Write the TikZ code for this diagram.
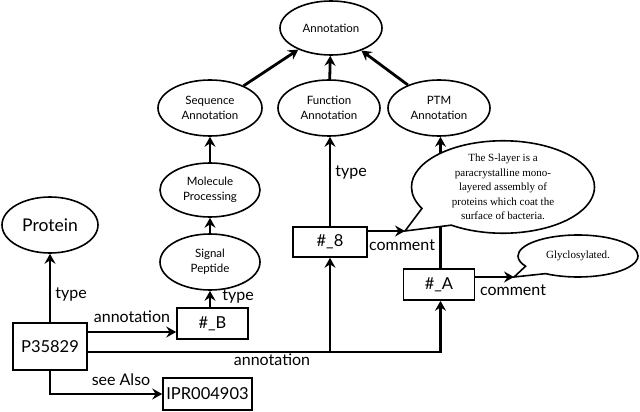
\documentclass[tikz,border=0pt]{standalone}
\usepackage{fontspec}
\setmainfont{Lato}
\newfontfamily\serifcall{Liberation Serif}
\usetikzlibrary{shapes.geometric,shapes.callouts,arrows.meta}
\begin{document}
\begin{tikzpicture}[x=1pt,y=-1pt,
  oval/.style={ellipse,draw,line width=1.6pt,inner sep=0pt,align=center,font=\fontsize{11.5}{15}\selectfont},
  box/.style={rectangle,draw,line width=1.6pt,inner sep=0pt,font=\fontsize{16.5}{18}\selectfont},
  arr/.style={line width=2.8pt,-{Stealth[length=10pt,width=11pt,inset=3.5pt]}},
  lbl/.style={font=\fontsize{16}{18}\selectfont,inner sep=0pt},
  callout/.style={ellipse callout,draw,fill=white,line width=1.6pt,inner sep=0pt,align=center,callout pointer arc=28,font=\serifcall\fontsize{11}{14.4}\selectfont}]
\useasboundingbox (0,0) rectangle (640,412);
% ellipses
\node[oval,minimum width=102pt,minimum height=54pt] (ann) at (331,28) {Annotation};
\node[oval,minimum width=104pt,minimum height=56pt] (seq) at (210,108) {Sequence\\Annotation};
\node[oval,minimum width=102pt,minimum height=56pt] (fun) at (329,108) {Function\\Annotation};
\node[oval,minimum width=102pt,minimum height=56pt] (ptm) at (439,108) {PTM\\Annotation};
\node[oval,minimum width=100pt,minimum height=54pt] (mol) at (210,190) {Molecule\\Processing};
\node[oval,minimum width=100pt,minimum height=56pt] (sig) at (210,262) {Signal\\Peptide};
\node[oval,minimum width=96pt,minimum height=56pt,font=\fontsize{17.5}{20}\selectfont] (prot) at (50,225) {Protein};
% boxes
\node[box,minimum width=74pt,minimum height=47pt] (p) at (50,346.5) {P35829};
\node[box,minimum width=71pt,minimum height=31pt] (b) at (212.5,323.5) {\#\_B};
\node[box,minimum width=89pt,minimum height=32pt] (ipr) at (207.5,394) {IPR004903};
\node[box,minimum width=74pt,minimum height=30pt] (n8) at (330,242) {\#\_8};
\node[box,minimum width=71pt,minimum height=31pt] (na) at (439,284.5) {\#\_A};
% connectors
\draw[arr] (seq) -- (ann);
\draw[arr] (fun) -- (ann);
\draw[arr] (ptm) -- (ann);
\draw[arr] (mol) -- (seq);
\draw[arr] (sig) -- (mol);
\draw[arr] (b.north -| sig.south) -- (sig.south);
\draw[arr] (p) -- (prot);
\draw[arr] ([yshift=14.5pt]p.east) -- ([yshift=14.5pt]p.east -| b.west);
\draw[arr] ([yshift=-5.5pt]p.east) -| ([xshift=1.5pt]na.south);
\draw[arr] ([yshift=-5.5pt]p.east -| n8.south) -- (n8.south);
\draw[arr] (p.south) |- (ipr.west);
\draw[arr] (n8.north) -- (n8.north |- fun.south);
\draw[arr] ([xshift=1.5pt]na.north) -- ([xshift=1.5pt]na.north |- ptm.south);
% callouts
\coordinate (t1) at (405,231);
\coordinate (t2) at (514,277);
\draw[arr] ([yshift=11pt]n8.east) -- (t1);
\draw[arr] ([yshift=7.5pt]na.east) -- (t2);
\node[callout,minimum width=183pt,minimum height=85pt,callout absolute pointer={(t1)}] (c1) at (503,187) {The S-layer is a\\paracrystalline mono-\\layered assembly of\\proteins which coat the\\surface of bacteria.};
\node[callout,minimum width=120pt,minimum height=42pt,callout absolute pointer={(t2)}] (c2) at (578,256) {Glyclosylated.};
% labels
\node[lbl] (l1) at (71,295) {type};
\node[lbl] (l2) at (132,317) {annotation};
\node[lbl] (l3) at (272,360) {annotation};
\node[lbl] (l4) at (121,380) {see Also};
\node[lbl] (l5) at (238,297) {type};
\node[lbl] (l6) at (351,173) {type};
\node[lbl] (l7) at (402,245) {comment};
\node[lbl] (l8) at (513,290) {comment};
\end{tikzpicture}
\end{document}
